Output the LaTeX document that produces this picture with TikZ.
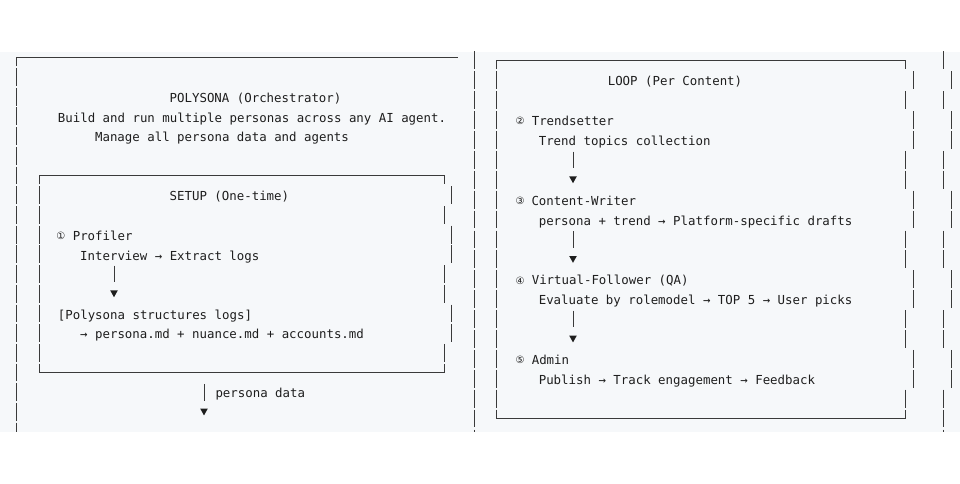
\documentclass[tikz,border=0pt]{standalone}
\usepackage{fontspec}
\setmonofont{DejaVu Sans Mono}
\newfontfamily\circfont{DejaVu Sans}
\usetikzlibrary{calc}
\definecolor{bgcol}{HTML}{F6F8FA}
\definecolor{txtcol}{HTML}{1E1E1E}
\definecolor{linecol}{HTML}{3A3A3A}
\tikzset{
  txt/.style={font=\ttfamily\fontsize{12.4}{14}\selectfont, text=txtcol, inner sep=0pt, anchor=base west},
  circ/.style={font=\circfont\fontsize{10}{11}\selectfont, text=txtcol, inner sep=0pt, anchor=center},
  bar/.style={draw=linecol, line width=1pt},
  rule/.style={draw=linecol, line width=1pt},
  flow/.style={draw=linecol, line width=1pt},
  downtri/.pic={\fill[txtcol] (-3.8,-3.3) -- (3.8,-3.3) -- (0,3.5) -- cycle;}
}
\begin{document}
\begin{tikzpicture}[x=1pt,y=-1pt,
  declare function={yl(\j)=57.3+19.7*\j; yr(\k)=60.3+19.9*\k;}]
\useasboundingbox (0,0) rectangle (960,484);
\fill[white] (0,0) rectangle (960,484);
\fill[bgcol] (0,51.7) rectangle (960,431.7);

\begin{scope}
\clip (0,51.7) rectangle (960,431.7);
% ---------- left outer frame ----------
\draw[rule] (16.7,{yl(0)+8.9}) -- (16.7,{yl(0)}) -- (458,{yl(0)});
\foreach \j in {1,...,19} \draw[bar] (16.7,{yl(\j)-8.9}) -- (16.7,{yl(\j)+8.9});
% ---------- SETUP box ----------
\draw[rule] (39,{yl(6)+8.9}) -- (39,{yl(6)}) -- (444.3,{yl(6)}) -- (444.3,{yl(6)+8.9});
\draw[rule] (39,{yl(16)-8.9}) -- (39,{yl(16)}) -- (444.3,{yl(16)}) -- (444.3,{yl(16)-8.9});
\foreach \j in {7,...,15} \draw[bar] (39,{yl(\j)-8.9}) -- (39,{yl(\j)+8.9});
\foreach \j/\xx in {7/451.7,8/444.3,9/451.7,10/451.7,11/444.3,12/444.3,13/451.7,14/451.7,15/444.3}
  \draw[bar] (\xx,{yl(\j)-8.9}) -- (\xx,{yl(\j)+8.9});
% ---------- separator ----------
\foreach \k in {0,...,19} \draw[bar] (474.3,{yr(\k)-8.9}) -- (474.3,{yr(\k)+8.9});
% ---------- LOOP box ----------
\draw[rule] (496.7,{yr(0)+8.9}) -- (496.7,{yr(0)}) -- (905.7,{yr(0)}) -- (905.7,{yr(0)+8.9});
\draw[rule] (496.7,{yr(18)-8.9}) -- (496.7,{yr(18)}) -- (905.7,{yr(18)}) -- (905.7,{yr(18)-8.9});
\foreach \k in {1,...,17} \draw[bar] (496.7,{yr(\k)-8.9}) -- (496.7,{yr(\k)+8.9});
\foreach \k/\xx in {1/913.3,2/905.7,3/913.3,4/913.3,5/905.7,6/905.7,7/913.3,8/913.3,9/905.7,10/905.7,11/913.3,12/913.3,13/905.7,14/905.7,15/913.3,16/913.3,17/905.7}
  \draw[bar] (\xx,{yr(\k)-8.9}) -- (\xx,{yr(\k)+8.9});
% ---------- right outer frame ----------
\foreach \k/\xx in {0/943,1/951.7,2/943,3/951.7,4/951.7,5/943,6/943,7/951.7,8/951.7,9/943,10/943,11/951.7,12/951.7,13/943,14/943,15/951.7,16/951.7,17/943,18/943,19/943}
  \draw[bar] (\xx,{yr(\k)-8.9}) -- (\xx,{yr(\k)+8.9});
\end{scope}

% ---------- left texts ----------
\node[txt] (title) at (169.5,{yl(2)+5.7}) {POLYSONA (Orchestrator)};
\node[txt] (desc1) at (57.7,{yl(3)+5.7}) {Build and run multiple personas across any AI agent.};
\node[txt] (desc2) at (94.9,{yl(4)+5.7}) {Manage all persona data and agents};
\node[txt] (setup) at (169.5,{yl(7)+5.7}) {SETUP (One-time)};
\node[circ] (n1) at (60.9,{yl(9)+1.2}) {①};
\node[txt] (profiler) at (72.6,{yl(9)+5.7}) {Profiler};
\node[txt] (interview) at (80.0,{yl(10)+5.7}) {Interview → Extract logs};
\node[txt] (structs) at (57.7,{yl(13)+5.7}) {[Polysona structures logs]};
\node[txt] (files) at (80.0,{yl(14)+5.7}) {→ persona.md + nuance.md + accounts.md};
\node[txt] (pdata) at (215.3,{yl(17)+5.7}) {persona data};

% ---------- right texts ----------
\node[txt] (loop) at (607.6,{yr(1)+5.7}) {LOOP (Per Content)};
\node[circ] (n2) at (520,{yr(3)+1.2}) {②};
\node[txt] (trend) at (531.6,{yr(3)+5.7}) {Trendsetter};
\node[txt] (trendd) at (538.6,{yr(4)+5.7}) {Trend topics collection};
\node[circ] (n3) at (520,{yr(7)+1.2}) {③};
\node[txt] (writer) at (531.3,{yr(7)+5.7}) {Content-Writer};
\node[txt] (writerd) at (538.6,{yr(8)+5.7}) {persona + trend → Platform-specific drafts};
\node[circ] (n4) at (520,{yr(11)+1.2}) {④};
\node[txt] (vf) at (531.6,{yr(11)+5.7}) {Virtual-Follower (QA)};
\node[txt] (vfd) at (538.6,{yr(12)+5.7}) {Evaluate by rolemodel → TOP 5 → User picks};
\node[circ] (n5) at (520,{yr(15)+1.2}) {⑤};
\node[txt] (admin) at (531.6,{yr(15)+5.7}) {Admin};
\node[txt] (admind) at (538.6,{yr(16)+5.7}) {Publish → Track engagement → Feedback};

% ---------- flow connectors ----------
\coordinate (fa1) at (114,{yl(11)-8.3}); \coordinate (fb1) at (114,{yl(11)+8.3});
\draw[flow] (fa1) -- (fb1); \pic at (114,{yl(12)}) {downtri};
\coordinate (fa2) at (204,{yl(17)-8.3}); \coordinate (fb2) at (204,{yl(17)+8.3});
\draw[flow] (fa2) -- (fb2); \pic at (204,{yl(18)}) {downtri};
\foreach \k/\nm in {5/r1,9/r2,13/r3}{
  \coordinate (fa\nm) at (573,{yr(\k)-8.3}); \coordinate (fb\nm) at (573,{yr(\k)+8.3});
  \draw[flow] (fa\nm) -- (fb\nm); \pic at (573,{yr(\k+1)}) {downtri};
}
\end{tikzpicture}
\end{document}
